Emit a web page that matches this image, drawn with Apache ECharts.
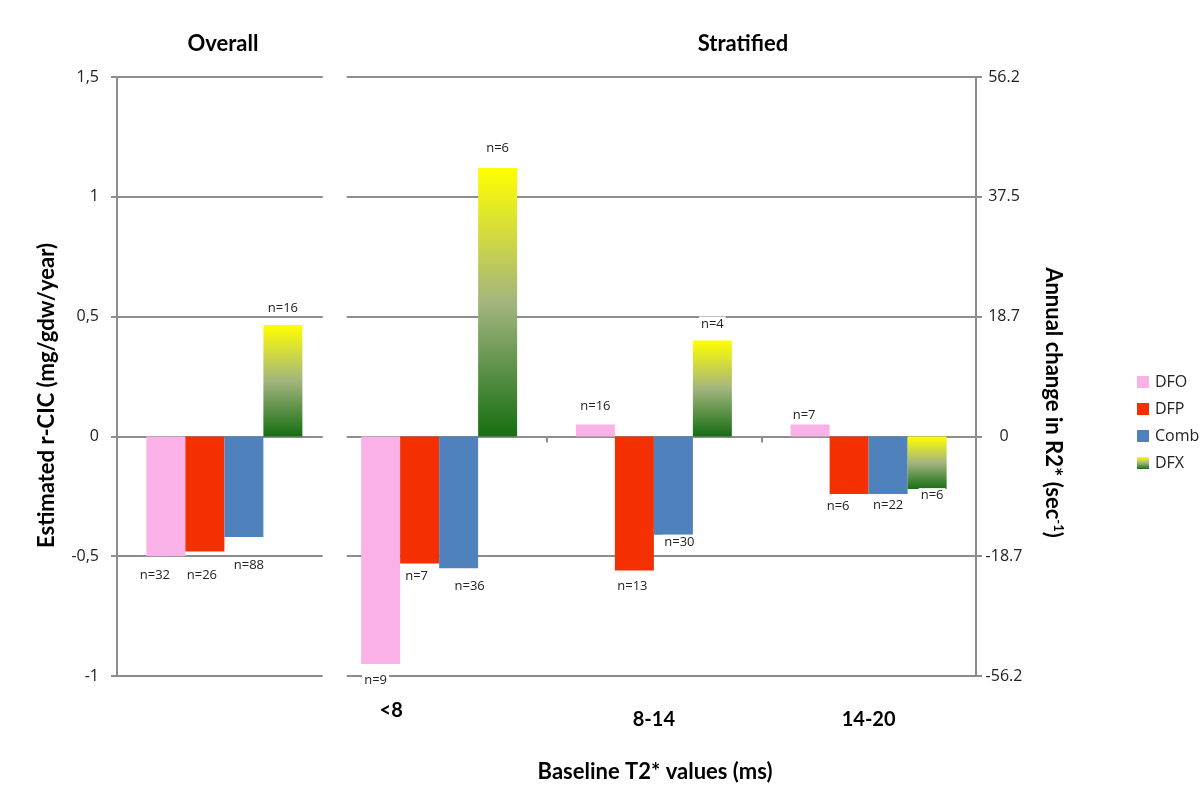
<!DOCTYPE html>
<html>
<head>
<meta charset="utf-8">
<script src="https://cdn.jsdelivr.net/npm/echarts@6/dist/echarts.min.js"></script>
<style>
html,body{margin:0;padding:0;background:#fff;}
#chart{width:1200px;height:797px;}
</style>
</head>
<body>
<div id="chart"></div>
<script>
// ---- data ----
const categories = ['Overall', '<8', '8-14', '14-20'];
const seriesNames = ['DFO', 'DFP', 'Comb', 'DFX'];
const dfoValues  = [-0.50, -0.95, 0.05, 0.05];
const dfpValues  = [-0.48, -0.53, -0.56, -0.24];
const combValues = [-0.42, -0.55, -0.41, -0.24];
const dfxValues  = [0.465, 1.12, 0.40, -0.22];
const dfoN  = [32, 9, 16, 7];
const dfpN  = [26, 7, 13, 6];
const combN = [88, 36, 30, 22];
const dfxN  = [16, 6, 4, 6];
const leftTickValues  = [-1, -0.5, 0, 0.5, 1, 1.5];
const leftTickLabels  = ['-1', '-0,5', '0', '0,5', '1', '1,5'];
const rightTickLabels = ['-56.2', '-18.7', '0', '18.7', '37.5', '56.2'];

// ---- layout / style ----
const gray = '#8d8d8d';
const tickFont = 'Open Sans';
const boldFont = 'Lato';
const labelNudge = {
  '0-0': [-11, 3], '1-0': [-3, 7], '2-0': [5, 12], '3-0': [0, 0],
  '0-1': [-5, 0], '1-1': [-3, -4], '2-1': [11, 2], '3-1': [0, -3],
  '0-2': [0, -2], '1-2': [-2, -1], '2-2': [6, -9], '3-2': [0, 0],
  '0-3': [-6, 7], '1-3': [-11, -4], '2-3': [0, -5], '3-3': [5, -10]
};
const dfxGradient = new echarts.graphic.LinearGradient(0, 0, 0, 1, [
  { offset: 0, color: '#ffff00' },
  { offset: 0.5, color: '#a3b57e' },
  { offset: 1, color: '#166e12' }
]);
const colors = ['#fab1e8', '#f42f00', '#4f81bd', dfxGradient];
const valueSets = [dfoValues, dfpValues, combValues, dfxValues];
const nSets = [dfoN, dfpN, combN, dfxN];

function fmtTick(labels) {
  return function (v) {
    for (let i = 0; i < leftTickValues.length; i++) {
      if (Math.abs(leftTickValues[i] - v) < 1e-9) return labels[i];
    }
    return '';
  };
}

const series = seriesNames.map(function (name, s) {
  return {
    name: name,
    type: 'bar',
    xAxisIndex: 0,
    yAxisIndex: 0,
    barWidth: 39,
    barGap: '0%',
    itemStyle: { color: colors[s] },
    data: valueSets[s].map(function (v, i) {
      return {
        value: v,
        label: {
          show: true,
          position: v < 0 ? 'bottom' : 'top',
          distance: 9,
          offset: labelNudge[s + '-' + i] || [0, 0],
          formatter: 'n=' + nSets[s][i],
          fontFamily: tickFont,
          fontSize: 13,
          color: '#222',
          backgroundColor: '#fff',
          padding: [1, 2]
        }
      };
    }),
    z: 3
  };
});

const boldText = { fontFamily: boldFont, fontWeight: 'bold', fontSize: 22, color: '#000' };

const chart = echarts.init(document.getElementById('chart'), null, { renderer: 'canvas' });
const option = {
  backgroundColor: '#fff',
  animation: false,
  title: [
    { text: 'Overall', left: 218, top: 28, textAlign: 'center', textStyle: boldText },
    { text: 'Stratified', left: 738, top: 28, textAlign: 'center', textStyle: boldText },
    { text: 'Baseline T2* values (ms)', left: 650, top: 756, textAlign: 'center', textStyle: boldText }
  ],
  legend: {
    orient: 'vertical',
    left: 1137,
    top: 374,
    padding: 0,
    itemWidth: 12,
    itemHeight: 12,
    itemGap: 11,
    icon: 'rect',
    data: seriesNames,
    textStyle: { fontFamily: tickFont, fontSize: 16, color: '#222', padding: [0, 0, 0, 1] }
  },
  grid: { left: 117, right: 224, top: 77, bottom: 121, containLabel: false },
  xAxis: [
    {
      type: 'category',
      data: categories,
      position: 'bottom',
      axisLine: { show: false, onZero: false },
      axisTick: { show: false },
      splitLine: { show: false },
      axisLabel: {
        margin: 25,
        fontFamily: boldFont,
        fontWeight: 'bold',
        fontSize: 20,
        color: '#000',
        formatter: function (v) {
          if (v === 'Overall') return '';
          if (v === '<8') return '{a|' + v + '}';
          return '{b|' + v + '}';
        },
        rich: {
          a: { fontFamily: boldFont, fontWeight: 'bold', fontSize: 20, color: '#000', padding: [0, 96, 0, 0] },
          b: { fontFamily: boldFont, fontWeight: 'bold', fontSize: 20, color: '#000', padding: [9, 0, 0, 0] }
        }
      }
    },
    {
      type: 'category',
      data: categories,
      position: 'top',
      axisLine: { show: true, onZero: true, onZeroAxisIndex: 0, lineStyle: { color: gray, width: 2 } },
      axisTick: { show: true, inside: true, length: 6, lineStyle: { color: gray, width: 2 } },
      axisLabel: { show: false },
      splitLine: { show: false }
    }
  ],
  yAxis: [
    {
      type: 'value',
      min: -1, max: 1.5, interval: 0.5,
      position: 'left',
      name: 'Estimated r-CIC (mg/gdw/year)',
      nameLocation: 'middle',
      nameRotate: 90,
      nameGap: 59,
      nameTextStyle: Object.assign({}, boldText, { padding: [0, 38, 0, 0] }),
      axisLine: { show: true, lineStyle: { color: gray, width: 2 } },
      axisTick: { show: true, length: 6, lineStyle: { color: gray, width: 2 } },
      splitLine: { show: true, lineStyle: { color: gray, width: 2 } },
      axisLabel: { margin: 18, fontFamily: tickFont, fontSize: 16, color: '#222', formatter: fmtTick(leftTickLabels) }
    },
    {
      type: 'value',
      min: -1, max: 1.5, interval: 0.5,
      position: 'right',
      name: '{n|Annual change in R2* (sec}{s|-1}{n|)}',
      nameLocation: 'middle',
      nameRotate: -90,
      nameGap: 65,
      nameTextStyle: Object.assign({}, boldText, {
        padding: [0, 0, 0, 52],
        rich: {
          n: boldText,
          s: { fontFamily: boldFont, fontWeight: 'bold', fontSize: 13, color: '#000', padding: [0, 0, 11, 0] }
        }
      }),
      axisLine: { show: true, lineStyle: { color: gray, width: 2 } },
      axisTick: { show: true, length: 6, lineStyle: { color: gray, width: 2 } },
      splitLine: { show: false },
      axisLabel: { margin: 28, align: 'center', fontFamily: tickFont, fontSize: 16, color: '#222', formatter: fmtTick(rightTickLabels) }
    }
  ],
  series: series
};
chart.setOption(option);

// white gap separating the "Overall" panel from the "Stratified" panel
const c0 = chart.convertToPixel({ xAxisIndex: 0 }, categories[0]);
const c1 = chart.convertToPixel({ xAxisIndex: 0 }, categories[1]);
const boundary = (c0 + c1) / 2;
const yTop = chart.convertToPixel({ yAxisIndex: 0 }, 1.5);
const yBot = chart.convertToPixel({ yAxisIndex: 0 }, -1);
chart.setOption({
  graphic: [{
    type: 'rect',
    shape: { x: boundary - 9, y: yTop - 4, width: 24, height: yBot - yTop + 8 },
    style: { fill: '#fff' },
    z: 2
  }]
});
</script>
</body>
</html>
